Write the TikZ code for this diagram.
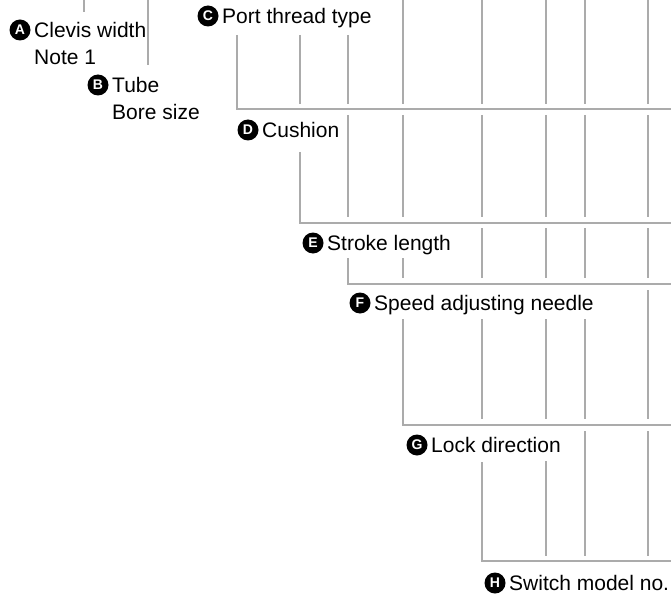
\documentclass[tikz,border=0pt]{standalone}
\usepackage{fontspec}
\setmainfont{Liberation Sans}
\definecolor{linegray}{HTML}{ABABAB}
\begin{document}
\begin{tikzpicture}[x=1pt,y=-1pt,
  ln/.style={draw=linegray, line width=2pt, line cap=butt, line join=miter},
  badge/.style={circle, fill=black, text=white, inner sep=0pt, minimum size=21pt,
    font=\fontsize{14}{14}\selectfont\bfseries},
  lbl/.style={anchor=base west, inner sep=0pt, font=\fontsize{21}{24}\selectfont}]
\useasboundingbox (0,0) rectangle (671,596);
% ---- labels
\node[lbl] (tA) at (34,37.5) {Clevis width};
\node[lbl] (tA2) at (34,64.5) {Note 1};
\node[badge] (bA) at (20,30) {A};
\node[lbl] (tB) at (112,92.5) {Tube};
\node[lbl] (tB2) at (112,119.5) {Bore size};
\node[badge] (bB) at (98,85) {B};
\node[lbl] (tC) at (222,23.5) {Port thread type};
\node[badge] (bC) at (208,16) {C};
\node[lbl] (tD) at (262,137.5) {Cushion};
\node[badge] (bD) at (248,130) {D};
\node[lbl] (tE) at (327,250.5) {Stroke length};
\node[badge] (bE) at (313,243) {E};
\node[lbl] (tF) at (374,310.5) {Speed adjusting needle};
\node[badge] (bF) at (360,303) {F};
\node[lbl] (tG) at (431,452.5) {Lock direction};
\node[badge] (bG) at (417,445) {G};
\node[lbl] (tH) at (509,590.5) {Switch model no.};
\node[badge] (bH) at (495,583) {H};
% ---- lines above the first bracket
\draw[ln] (84,0) -- (84,12);
\draw[ln] (148,0) -- (148,65);
\foreach \x in {403,482,546,585,648} \draw[ln] (\x,0) -- (\x,104);
\foreach \x in {300,348} \draw[ln] (\x,35) -- (\x,104);
\draw[ln] (237,35) |- (671,109);
% ---- segment 2
\foreach \x in {348,403,482,546,585,648} \draw[ln] (\x,115) -- (\x,217);
\draw[ln] (300,152) |- (671,223);
% ---- segment 3
\foreach \x in {482,546,585,648} \draw[ln] (\x,228) -- (\x,278);
\draw[ln] (403,258) -- (403,278);
\draw[ln] (348,258) |- (671,284);
% ---- segment 4
\draw[ln] (648,290) -- (648,419);
\foreach \x in {482,546,585} \draw[ln] (\x,319) -- (\x,419);
\draw[ln] (403,319) |- (671,425);
% ---- segment 5
\foreach \x in {585,648} \draw[ln] (\x,431) -- (\x,556);
\draw[ln] (546,461) -- (546,556);
\draw[ln] (482,462) |- (671,561);
\end{tikzpicture}
\end{document}
